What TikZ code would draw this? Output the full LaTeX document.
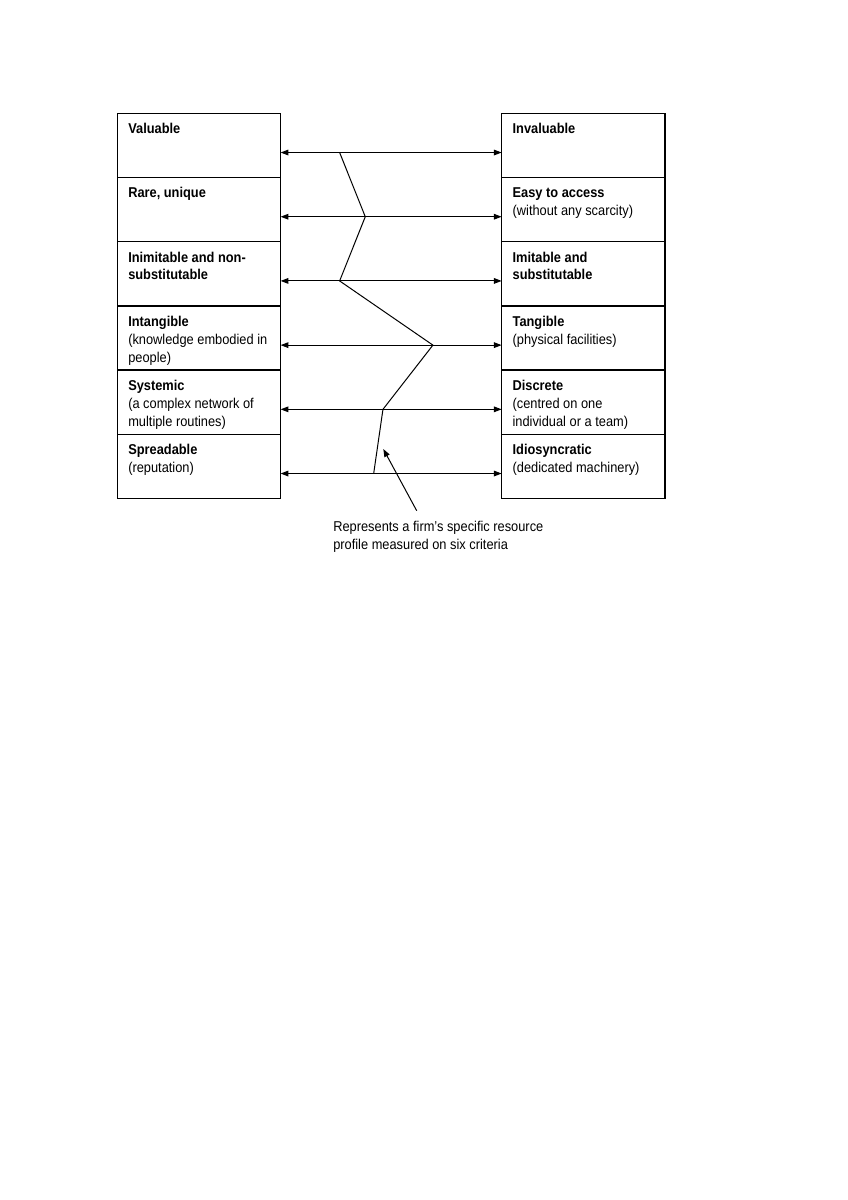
\documentclass[tikz,border=0pt]{standalone}
\usepackage{fontspec}
\setmainfont{Liberation Sans}[FakeStretch=0.9]
\usetikzlibrary{arrows.meta,positioning,calc}

\begin{document}
\begin{tikzpicture}[
  x=0.7017pt, y=-0.7017pt,
  font=\fontsize{10pt}{12.6pt}\selectfont,
  cell/.style={draw, line width=0.9pt, minimum width=114.6pt, minimum height=45.05pt,
               inner sep=0pt, outer sep=0pt},
  celltext/.style={align=left, inner sep=0pt},
  scaleline/.style={line width=0.7pt},
  >={Triangle[length=5.5pt,width=4pt]}]
  \useasboundingbox (0,0) rectangle (848,1200);
  % left column
  \node[cell, anchor=north west] (L1) at (117.3,113.3) {};
  \node[cell, below=0pt of L1] (L2) {};
  \node[cell, below=0pt of L2] (L3) {};
  \node[cell, below=0pt of L3] (L4) {};
  \node[cell, below=0pt of L4] (L5) {};
  \node[cell, below=0pt of L5] (L6) {};
  % right column
  \node[cell, right=155.1pt of L1] (R1) {};
  \node[cell, below=0pt of R1] (R2) {};
  \node[cell, below=0pt of R2] (R3) {};
  \node[cell, below=0pt of R3] (R4) {};
  \node[cell, below=0pt of R4] (R5) {};
  \node[cell, below=0pt of R5] (R6) {};
  % texts
  \node[celltext, below right=6.8pt and 7.5pt of L1.north west] (L1t) {\textbf{Valuable}};
  \node[celltext, below right=6.8pt and 7.5pt of L2.north west] (L2t) {\textbf{Rare, unique}};
  \node[celltext, below right=6.8pt and 7.5pt of L3.north west] (L3t) {\textbf{Inimitable and non-}\\\textbf{substitutable}};
  \node[celltext, below right=6.8pt and 7.5pt of L4.north west] (L4t) {\textbf{Intangible}\\(knowledge embodied in\\people)};
  \node[celltext, below right=6.8pt and 7.5pt of L5.north west] (L5t) {\textbf{Systemic}\\(a complex network of\\multiple routines)};
  \node[celltext, below right=6.8pt and 7.5pt of L6.north west] (L6t) {\textbf{Spreadable}\\(reputation)};
  \node[celltext, below right=6.8pt and 7.5pt of R1.north west] (R1t) {\textbf{Invaluable}};
  \node[celltext, below right=6.8pt and 7.5pt of R2.north west] (R2t) {\textbf{Easy to access}\\(without any scarcity)};
  \node[celltext, below right=6.8pt and 7.5pt of R3.north west] (R3t) {\textbf{Imitable and}\\\textbf{substitutable}};
  \node[celltext, below right=6.8pt and 7.5pt of R4.north west] (R4t) {\textbf{Tangible}\\(physical facilities)};
  \node[celltext, below right=6.8pt and 7.5pt of R5.north west] (R5t) {\textbf{Discrete}\\(centred on one\\individual or a team)};
  \node[celltext, below right=6.8pt and 7.5pt of R6.north west] (R6t) {\textbf{Idiosyncratic}\\(dedicated machinery)};
  % scale arrows
  \coordinate (a1) at ($(L1.north east)!0.611!(L1.south east)$);
  \coordinate (a2) at ($(L2.north east)!0.611!(L2.south east)$);
  \coordinate (a3) at ($(L3.north east)!0.611!(L3.south east)$);
  \coordinate (a4) at ($(L4.north east)!0.611!(L4.south east)$);
  \coordinate (a5) at ($(L5.north east)!0.611!(L5.south east)$);
  \coordinate (a6) at ($(L6.north east)!0.611!(L6.south east)$);
  \coordinate (b1) at (a1 -| R1.west);
  \coordinate (b2) at (a2 -| R2.west);
  \coordinate (b3) at (a3 -| R3.west);
  \coordinate (b4) at (a4 -| R4.west);
  \coordinate (b5) at (a5 -| R5.west);
  \coordinate (b6) at (a6 -| R6.west);
  \draw[scaleline, <->] (a1) -- (b1);
  \draw[scaleline, <->] (a2) -- (b2);
  \draw[scaleline, <->] (a3) -- (b3);
  \draw[scaleline, <->] (a4) -- (b4);
  \draw[scaleline, <->] (a5) -- (b5);
  \draw[scaleline, <->] (a6) -- (b6);
  % profile
  \coordinate (p1) at ($(a1)!0.267!(b1)$);
  \coordinate (p2) at ($(a2)!0.383!(b2)$);
  \coordinate (p3) at ($(a3)!0.267!(b3)$);
  \coordinate (p4) at ($(a4)!0.689!(b4)$);
  \coordinate (p5) at ($(a5)!0.463!(b5)$);
  \coordinate (p6) at ($(a6)!0.421!(b6)$);
  \draw[scaleline] (p1) -- (p2) -- (p3) -- (p4) -- (p5) -- (p6);
  % note
  \node[celltext, anchor=north west] (note) at (333,520.5)
      {Represents a firm's specific resource\\profile measured on six criteria};
  \coordinate (ptr) at (416.7,510.7);
  \coordinate (tip) at (383.3,449);
  \draw[scaleline, ->] (ptr) -- (tip);
\end{tikzpicture}
\end{document}
